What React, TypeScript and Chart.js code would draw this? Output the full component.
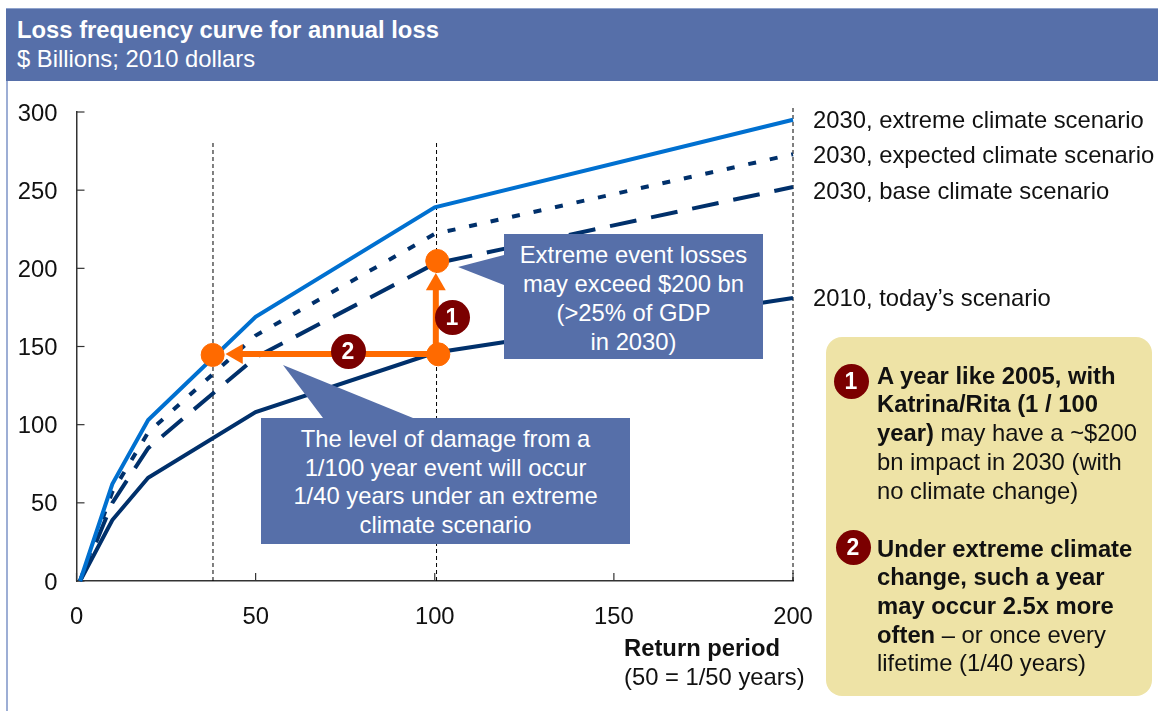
import React, { useEffect, useRef } from "react";
import { Chart, registerables } from "chart.js";

Chart.register(...registerables);

const FONT = '"Liberation Sans", Arial, sans-serif';
const FS = 23.8;
const returnPeriods = [1, 10, 20, 50, 100, 200];
const extreme2030 = [0, 62, 103, 169, 239, 295];
const expected2030 = [0, 57, 95, 157, 222, 273];
const base2030 = [0, 50, 85, 143, 203, 252];
const today2010 = [0, 39, 66, 108, 146, 181];
const axisTicks = [0, 50, 100, 150, 200, 250, 300];
const guideA = [{ x: 38.1, y: 0 }, { x: 38.1, y: 281.5 }];
const guideB = [{ x: 100.5, y: 0 }, { x: 100.5, y: 281.5 }];
const guideC = [{ x: 200, y: 0 }, { x: 200, y: 304.5 }];
const markers = [{ x: 38, y: 144.6 }, { x: 100.7, y: 204.7 }, { x: 101, y: 145 }];
const arrowUp = [{ x: 100.3, y: 145 }, { x: 100.3, y: 189.7 }];
const arrowLeft = [{ x: 101, y: 145.2 }, { x: 44.8, y: 145.2 }];
const seriesLabels = [
  { text: "2030, extreme climate scenario", top: 120 },
  { text: "2030, expected climate scenario", top: 155 },
  { text: "2030, base climate scenario", top: 191 },
  { text: "2010, today\u2019s scenario", top: 298 },
];
const callout1 = ["Extreme event losses", "may exceed $200 bn", "(>25% of GDP", "in 2030)"];
const callout2 = ["The level of damage from a", "1/100 year event will occur", "1/40 years under an extreme", "climate scenario"];

const toPts = (ys: number[]) => ys.map((y, i) => ({ x: returnPeriods[i], y }));

const innerTicks = {
  id: "innerTicks",
  beforeDatasetsDraw(chart: any) {
    const { ctx, scales } = chart;
    ctx.save();
    ctx.strokeStyle = "#333333";
    ctx.lineWidth = 1.2;
    axisTicks.forEach((t) => {
      const y = scales.y.getPixelForValue(t);
      ctx.beginPath();
      ctx.moveTo(scales.x.left, y);
      ctx.lineTo(scales.x.left + 8, y);
      ctx.stroke();
      if (t <= 200) {
        const x = scales.x.getPixelForValue(t);
        ctx.beginPath();
        ctx.moveTo(x, scales.y.bottom);
        ctx.lineTo(x, scales.y.bottom - 8);
        ctx.stroke();
      }
    });
    ctx.restore();
  },
};

const abs = (s: React.CSSProperties): React.CSSProperties => ({ position: "absolute", ...s });

function Badge({ n, x, y }: { n: string; x: number; y: number }) {
  return (
    <div style={abs({ left: x - 17.5, top: y - 17.5, width: 35, height: 35, borderRadius: "50%", background: "#7B0000", color: "#fff", font: `bold 23px ${FONT}`, lineHeight: "35px", textAlign: "center" })}>{n}</div>
  );
}

function Line({ top, left, children }: { top: number; left: number; children: React.ReactNode }) {
  return <div style={abs({ left, top: top - 15, height: 30, lineHeight: "30px", whiteSpace: "nowrap" })}>{children}</div>;
}

export default function App() {
  const ref = useRef<HTMLCanvasElement>(null);
  useEffect(() => {
    const guide = (data: any[]) => ({ data, borderColor: "#000000", borderWidth: 1, borderDash: [4, 3], pointRadius: 0, showLine: true, clip: false as any });
    const chart = new Chart(ref.current!, {
      type: "scatter",
      data: {
        datasets: [
          { data: markers, backgroundColor: "#FF6A00", borderColor: "#FF6A00", pointRadius: 11.5, showLine: false, clip: false as any },
          { data: arrowUp, borderColor: "#FF6A00", backgroundColor: "#FF6A00", borderWidth: 6, pointStyle: "triangle", pointBorderWidth: 0, pointRadius: [0, 11.5], pointRotation: 0, showLine: true } as any,
          { data: arrowLeft, borderColor: "#FF6A00", backgroundColor: "#FF6A00", borderWidth: 6, pointStyle: "triangle", pointBorderWidth: 0, pointRadius: [0, 11.5], pointRotation: 270, showLine: true } as any,
          { data: toPts(extreme2030), borderColor: "#0070D0", borderWidth: 4, pointRadius: 0, showLine: true, clip: false as any },
          { data: toPts(expected2030), borderColor: "#00306B", borderWidth: 4, borderDash: [8, 14], pointRadius: 0, showLine: true, clip: false as any },
          { data: toPts(base2030), borderColor: "#00306B", borderWidth: 4, borderDash: [27, 15], pointRadius: 0, showLine: true, clip: false as any },
          { data: toPts(today2010), borderColor: "#00306B", borderWidth: 4, pointRadius: 0, showLine: true, clip: false as any },
          guide(guideA),
          guide(guideB),
          guide(guideC),
        ],
      },
      options: {
        responsive: false,
        animation: false,
        layout: { padding: { left: 0, right: 365, top: 112, bottom: 0 } },
        plugins: { legend: { display: false }, tooltip: { enabled: false } },
        scales: {
          x: {
            type: "linear",
            min: 0,
            max: 200,
            afterFit(s: any) { s.height = 130; s.paddingLeft = 0; s.paddingRight = 0; s.paddingTop = 0; s.paddingBottom = 0; },
            ticks: { stepSize: 50, padding: 22, color: "#111", font: { family: "Liberation Sans", size: FS }, maxRotation: 0 },
            grid: { drawOnChartArea: false, drawTicks: false },
            border: { display: true, color: "#333333", width: 1.5 },
          },
          y: {
            type: "linear",
            min: 0,
            max: 300,
            afterFit(s: any) { s.width = 76.5; s.paddingLeft = 0; s.paddingRight = 0; s.paddingTop = 0; s.paddingBottom = 0; },
            ticks: { stepSize: 50, padding: 19, labelOffset: 2, color: "#111", font: { family: "Liberation Sans", size: FS } },
            grid: { drawOnChartArea: false, drawTicks: false },
            border: { display: true, color: "#333333", width: 1.5 },
          },
        },
      },
      plugins: [innerTicks],
    } as any);
    return () => chart.destroy();
  }, []);

  return (
    <div style={abs({ left: 0, top: 0, width: 1158, height: 711, overflow: "hidden", background: "#fff", fontFamily: FONT, color: "#111" })}>
      <canvas ref={ref} width={1158} height={711} style={{ display: "block", position: "absolute", left: 0, top: 0 }} />
      <div style={abs({ left: 6, top: 8, width: 1152, height: 73, background: "#566FA9", borderTop: "1px solid #8FA3CC", boxSizing: "border-box" })} />
      <div style={abs({ left: 6, top: 81, width: 2, height: 630, background: "#9DAED5" })} />
      <div style={abs({ left: 17, top: 16, height: 30, lineHeight: "30px", color: "#fff", font: `bold ${FS}px ${FONT}`, whiteSpace: "nowrap" })}>Loss frequency curve for annual loss</div>
      <div style={abs({ left: 17, top: 45, height: 30, lineHeight: "30px", color: "#fff", font: `${FS}px ${FONT}`, whiteSpace: "nowrap" })}>$ Billions; 2010 dollars</div>

      <div style={{ fontSize: FS }}>
        {seriesLabels.map((l) => <Line key={l.text} left={813} top={l.top}>{l.text}</Line>)}
        <Line left={624} top={648}><b>Return period</b></Line>
        <Line left={624} top={677}>(50 = 1/50 years)</Line>
      </div>

      <svg width={1158} height={711} style={abs({ left: 0, top: 0 })}>
        <polygon points="458,267 504,255 504,285" fill="#566FA9" />
        <polygon points="283,365 323,418 413,418" fill="#566FA9" />
      </svg>
      <div style={abs({ left: 504, top: 234, width: 259, height: 125, background: "#566FA9", color: "#fff", textAlign: "center", fontSize: FS, lineHeight: "29px", paddingTop: 6, boxSizing: "border-box", whiteSpace: "nowrap" })}>
        {callout1.map((t) => <div key={t}>{t}</div>)}
      </div>
      <div style={abs({ left: 261, top: 418, width: 369, height: 126, background: "#566FA9", color: "#fff", textAlign: "center", fontSize: FS, lineHeight: "28.5px", paddingTop: 7, boxSizing: "border-box", whiteSpace: "nowrap" })}>
        {callout2.map((t) => <div key={t}>{t}</div>)}
      </div>

      <Badge n="1" x={452} y={317} />
      <Badge n="2" x={348} y={351} />

      <div style={abs({ left: 826, top: 337, width: 326, height: 359, background: "#EEE3A6", borderRadius: 16 })} />
      <Badge n="1" x={851} y={381} />
      <Badge n="2" x={853} y={547} />
      <div style={{ fontSize: FS }}>
        <Line left={877} top={376}><b>A year like 2005, with</b></Line>
        <Line left={877} top={404}><b>Katrina/Rita (1 / 100</b></Line>
        <Line left={877} top={433}><b>year)</b> may have a ~$200</Line>
        <Line left={877} top={462}>bn impact in 2030 (with</Line>
        <Line left={877} top={491}>no climate change)</Line>
        <Line left={877} top={549}><b>Under extreme climate</b></Line>
        <Line left={877} top={577}><b>change, such a year</b></Line>
        <Line left={877} top={606}><b>may occur 2.5x more</b></Line>
        <Line left={877} top={635}><b>often</b> – or once every</Line>
        <Line left={877} top={663}>lifetime (1/40 years)</Line>
      </div>
    </div>
  );
}
